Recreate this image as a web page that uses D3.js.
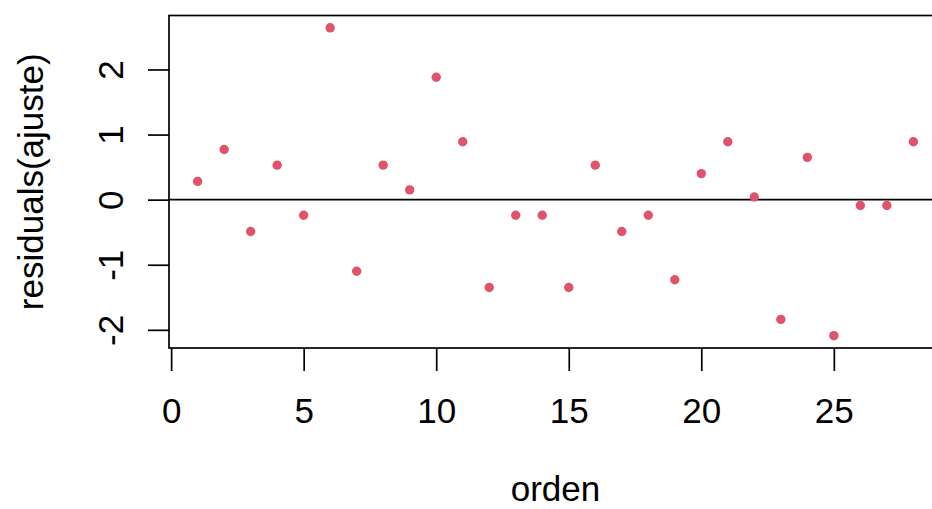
<!DOCTYPE html>
<html>
<head>
<meta charset="utf-8">
<script src="https://cdn.jsdelivr.net/npm/d3@7"></script>
<style>
  html, body { margin: 0; padding: 0; background: #fff; }
  svg { display: block; }
  text { font-family: Arial, "Liberation Sans", sans-serif; fill: #000; }
</style>
</head>
<body>
<svg id="chart" width="932" height="509"></svg>
<script>
// ---- data ----
const orden = [1,2,3,4,5,6,7,8,9,10,11,12,13,14,15,16,17,18,19,20,21,22,23,24,25,26,27,28];
const residuos = [0.28, 0.77, -0.49, 0.53, -0.24, 2.64, -1.10, 0.53, 0.15, 1.88,
                  0.89, -1.35, -0.24, -0.24, -1.35, 0.53, -0.49, -0.24, -1.23, 0.40,
                  0.89, 0.04, -1.84, 0.65, -2.09, -0.09, -0.09, 0.89];
const xTicks = [0, 5, 10, 15, 20, 25];
const yTicks = [-2, -1, 0, 1, 2];
const xTitle = "orden";
const yTitle = "residuals(ajuste)";

// ---- layout ----
const W = 932, H = 509;
const plot = { left: 169, top: 15.5, bottom: 348, right: 942 };
const pointColor = "#DF536B";
const fontSize = 35;

const svg = d3.select("#chart");

// R-style 4% axis extension
function rRange(vals) {
  const lo = d3.min(vals), hi = d3.max(vals), d = (hi - lo) * 0.04;
  return [lo - d, hi + d];
}

const x = d3.scaleLinear().domain(rRange(orden)).range([plot.left, plot.right]);
const y = d3.scaleLinear().domain(rRange(residuos)).range([plot.bottom, plot.top]);

svg.append("defs").append("clipPath").attr("id", "clip")
  .append("rect")
  .attr("x", plot.left).attr("y", plot.top)
  .attr("width", plot.right - plot.left).attr("height", plot.bottom - plot.top);

const gPlot = svg.append("g").attr("clip-path", "url(#clip)");

// horizontal reference line at 0
gPlot.append("line")
  .attr("x1", plot.left).attr("x2", plot.right)
  .attr("y1", y(0)).attr("y2", y(0))
  .attr("stroke", "#000").attr("stroke-width", 1.6);

// points
gPlot.selectAll("circle.pt")
  .data(orden.map((o, i) => ({ o, r: residuos[i] })))
  .join("circle")
  .attr("class", "pt")
  .attr("cx", d => x(d.o))
  .attr("cy", d => y(d.r))
  .attr("r", 4.7)
  .attr("fill", pointColor);

// box
svg.append("rect")
  .attr("x", plot.left).attr("y", plot.top)
  .attr("width", plot.right - plot.left).attr("height", plot.bottom - plot.top)
  .attr("fill", "none").attr("stroke", "#000").attr("stroke-width", 1.7);

const fmt = d => String(d);

// x axis
const gx = svg.append("g")
  .attr("transform", `translate(0,${plot.bottom})`)
  .call(d3.axisBottom(x).tickValues(xTicks).tickSize(23).tickFormat(fmt));
gx.select(".domain").remove();
gx.selectAll(".tick line").attr("stroke", "#000").attr("stroke-width", 1.7);
gx.selectAll(".tick text")
  .attr("y", 75).attr("dy", 0)
  .style("font-size", fontSize + "px")
  .attr("font-family", null);

// y axis
const gy = svg.append("g")
  .attr("transform", `translate(${plot.left},0)`)
  .call(d3.axisLeft(y).tickValues(yTicks).tickSize(21).tickFormat(fmt));
gy.select(".domain").remove();
gy.selectAll(".tick line").attr("stroke", "#000").attr("stroke-width", 1.7);
gy.selectAll(".tick text")
  .attr("x", null).attr("dy", null)
  .attr("text-anchor", "middle")
  .attr("transform", "translate(-46,0) rotate(-90)")
  .style("font-size", fontSize + "px")
  .attr("font-family", null);

// axis titles
svg.append("text")
  .attr("x", (plot.left + plot.right) / 2)
  .attr("y", 501)
  .attr("text-anchor", "middle")
  .style("font-size", fontSize + "px")
  .text(xTitle);

svg.append("text")
  .attr("transform", `translate(43,${(plot.top + plot.bottom) / 2}) rotate(-90)`)
  .attr("text-anchor", "middle")
  .style("font-size", fontSize + "px")
  .text(yTitle);
</script>
</body>
</html>
